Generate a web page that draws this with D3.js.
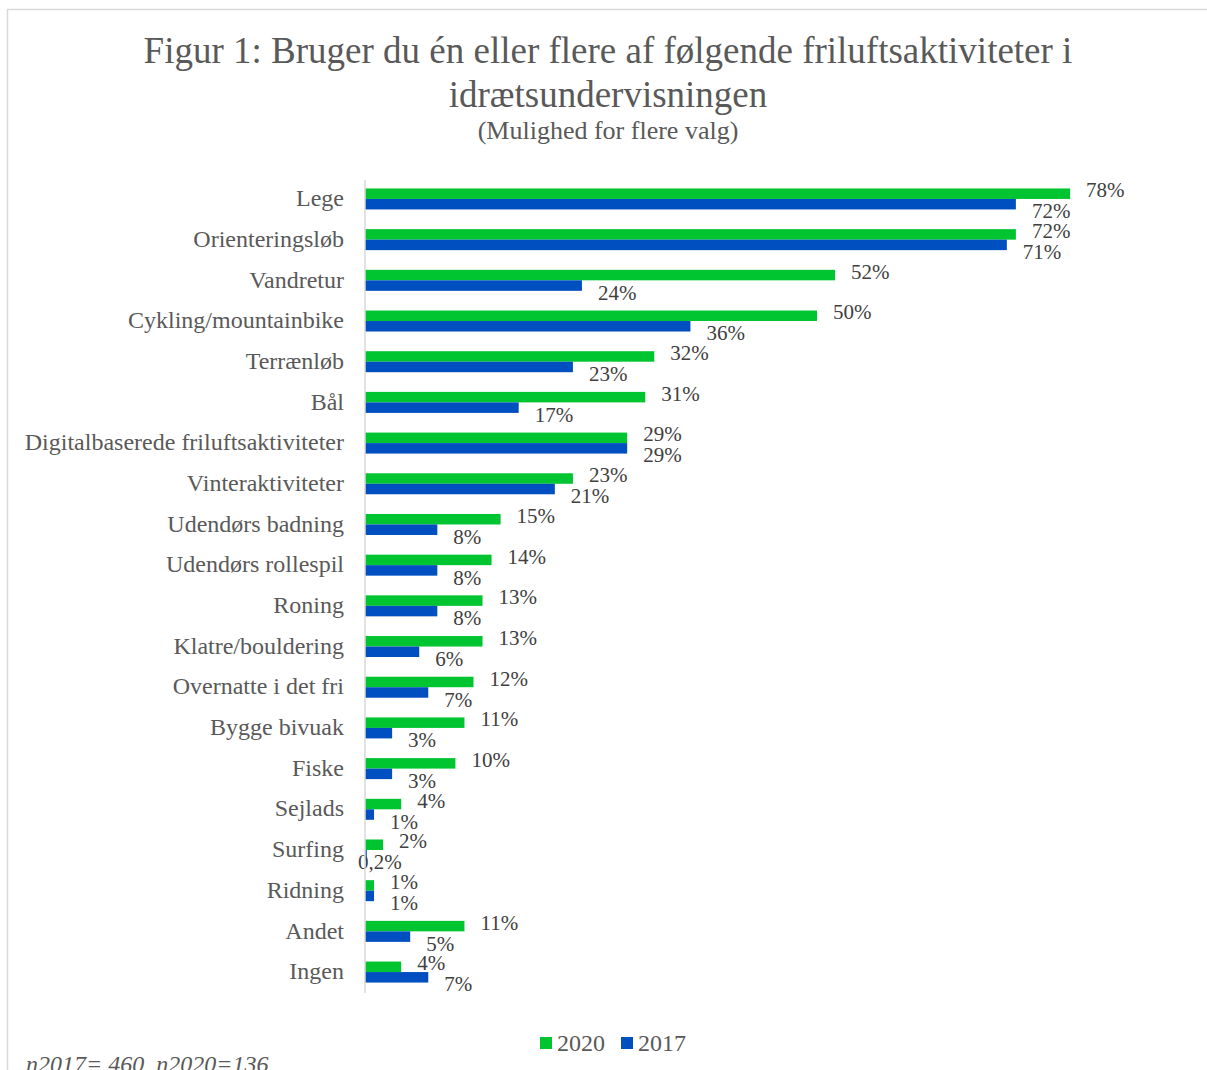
<!DOCTYPE html>
<html>
<head>
<meta charset="utf-8">
<script src="https://cdn.jsdelivr.net/npm/d3@7"></script>
<style>
  body { margin: 0; background: #fff; }
  svg { display: block; font-family: "Liberation Serif", "Times New Roman", serif; }
</style>
</head>
<body>
<div id="chart"></div>
<script>
// data
var categories = ["Lege", "Orienteringsløb", "Vandretur", "Cykling/mountainbike", "Terrænløb", "Bål",
  "Digitalbaserede friluftsaktiviteter", "Vinteraktiviteter", "Udendørs badning", "Udendørs rollespil",
  "Roning", "Klatre/bouldering", "Overnatte i det fri", "Bygge bivuak", "Fiske", "Sejlads", "Surfing",
  "Ridning", "Andet", "Ingen"];
var values2020 = [78, 72, 52, 50, 32, 31, 29, 23, 15, 14, 13, 13, 12, 11, 10, 4, 2, 1, 11, 4];
var values2017 = [72, 71, 24, 36, 23, 17, 29, 21, 8, 8, 8, 6, 7, 3, 3, 1, 0.2, 1, 5, 7];
var seriesNames = ["2020", "2017"];
var seriesColors = ["#00c531", "#004fc0"];

var width = 1207, height = 1070;
var svg = d3.select("#chart").append("svg")
  .attr("width", width)
  .attr("height", height);

// outer frame
svg.append("rect")
  .attr("x", 7.5).attr("y", 9.5)
  .attr("width", 1260).attr("height", 1100)
  .attr("fill", "none")
  .attr("stroke", "#d9d9d9")
  .attr("stroke-width", 1.5);

// titles
var title = svg.append("text")
  .attr("text-anchor", "middle")
  .attr("fill", "#595959");
title.append("tspan").attr("x", 608).attr("y", 63).style("font-size", "37px")
  .text("Figur 1: Bruger du én eller flere af følgende friluftsaktiviteter i");
title.append("tspan").attr("x", 608).attr("y", 107).style("font-size", "37px")
  .text("idrætsundervisningen");
title.append("tspan").attr("x", 608).attr("y", 139).style("font-size", "26px")
  .text("(Mulighed for flere valg)");

// scales
var x = d3.scaleLinear().domain([0, 100]).range([365, 1269]);
var y = d3.scaleBand().domain(categories).range([178.6, 992.4]);
var barH = 10.5;

var rows = categories.map(function (c, i) {
  return { cat: c, v2020: values2020[i], v2017: values2017[i] };
});

// category axis
var yAxis = svg.append("g")
  .attr("transform", "translate(365,0)")
  .call(d3.axisLeft(y).tickSize(0).tickPadding(21));
yAxis.select(".domain").remove();
yAxis.selectAll("text")
  .style("font-family", "Liberation Serif, Times New Roman, serif")
  .style("font-size", "24px")
  .attr("fill", "#595959")
  .attr("dy", "0.3em");

var fmt = function (v) {
  return (v < 1 ? String(v).replace(".", ",") : d3.format(".0f")(v)) + "%";
};

// bars
var g = svg.append("g");
g.selectAll(".bar2020").data(rows).enter().append("rect")
  .attr("x", x(0))
  .attr("y", function (d) { return y(d.cat) + y.bandwidth() / 2 - barH; })
  .attr("width", function (d) { return x(d.v2020) - x(0); })
  .attr("height", barH)
  .attr("fill", seriesColors[0]);
g.selectAll(".bar2017").data(rows).enter().append("rect")
  .attr("x", x(0))
  .attr("y", function (d) { return y(d.cat) + y.bandwidth() / 2; })
  .attr("width", function (d) { return x(d.v2017) - x(0); })
  .attr("height", barH)
  .attr("fill", seriesColors[1]);

// data labels
g.selectAll(".lab2020").data(rows).enter().append("text")
  .attr("x", function (d) { return x(d.v2020) + 16; })
  .attr("y", function (d) { return y(d.cat) + y.bandwidth() / 2 - 9; })
  .attr("dy", "0.35em")
  .style("font-size", "21px")
  .attr("fill", "#404040")
  .text(function (d) { return fmt(d.v2020); });
g.selectAll(".lab2017").data(rows).enter().append("text")
  .attr("x", function (d) { return d.v2017 < 1 ? x(0) - 7 : x(d.v2017) + 16; })
  .attr("y", function (d) { return y(d.cat) + y.bandwidth() / 2 + 12; })
  .attr("dy", "0.35em")
  .style("font-size", "21px")
  .attr("fill", "#404040")
  .text(function (d) { return fmt(d.v2017); });

// vertical axis line
svg.append("line")
  .attr("x1", x(0)).attr("x2", x(0))
  .attr("y1", 180).attr("y2", 993)
  .attr("stroke", "#d9d9d9")
  .attr("stroke-width", 1.5);

// legend
var legend = svg.append("g").attr("transform", "translate(540,1037)");
var items = legend.selectAll("g").data(seriesNames).enter().append("g")
  .attr("transform", function (d, i) { return "translate(" + (i * 81) + ",0)"; });
items.append("rect")
  .attr("width", 12).attr("height", 12)
  .attr("fill", function (d, i) { return seriesColors[i]; });
items.append("text")
  .attr("x", 17).attr("y", 6)
  .attr("dy", "0.35em")
  .style("font-size", "24px")
  .attr("fill", "#595959")
  .text(function (d) { return d; });

// footnote
svg.append("text")
  .attr("x", 26).attr("y", 1072)
  .style("font-size", "24px")
  .style("font-style", "italic")
  .attr("fill", "#595959")
  .text("n2017= 460, n2020=136");
</script>
</body>
</html>
